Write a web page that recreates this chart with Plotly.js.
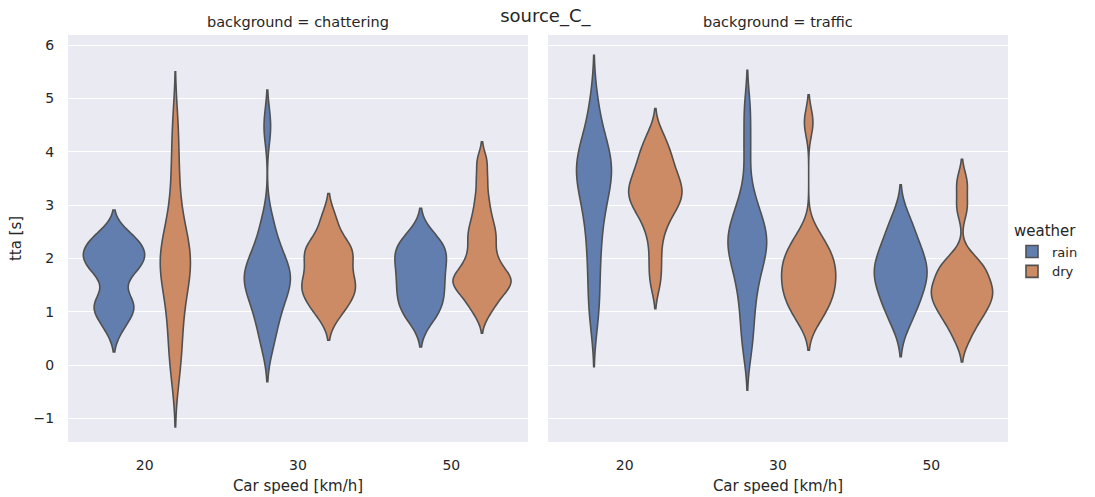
<!DOCTYPE html>
<html>
<head>
<meta charset="utf-8">
<script src="https://cdn.plot.ly/plotly-3.0.1.min.js"></script>
<style>
  html, body { margin: 0; padding: 0; background: #ffffff; }
  #chart { width: 1095px; height: 497px; }
</style>
</head>
<body>
<div id="chart"></div>
<script>
// Categories
const speeds = ['20', '30', '50'];
const weathers = ['rain', 'dry'];
const backgrounds = ['chattering', 'traffic'];

// tta [s] samples, background = chattering
const chatteringRain20 = [0.69, 0.95, 1.05, 1.15, 1.3, 1.65, 1.8, 1.9, 2.0, 2.05, 2.15, 2.25, 2.35, 2.47];
const chatteringDry20  = [-0.16, 0.2, 0.55, 0.9, 1.2, 1.45, 1.65, 1.8, 1.9, 2.0, 2.1, 2.25, 2.45, 2.7, 3.2, 3.8, 4.5];
const chatteringRain30 = [0.37, 0.7, 0.95, 1.15, 1.3, 1.45, 1.55, 1.65, 1.72, 1.8, 1.95, 2.1, 2.35, 2.7, 4.48];
const chatteringDry30  = [0.95, 1.15, 1.3, 1.42, 1.52, 1.62, 1.8, 2.0, 2.1, 2.2, 2.35, 2.74];
const chatteringRain50 = [0.84, 1.0, 1.12, 1.25, 1.38, 1.5, 1.62, 1.75, 1.88, 2.0, 2.1, 2.2, 2.3, 2.44];
const chatteringDry50  = [0.96, 1.15, 1.25, 1.35, 1.45, 1.5, 1.55, 1.6, 1.65, 1.7, 1.8, 1.9, 2.0, 2.15, 2.3, 2.42, 2.55, 2.7, 2.9, 3.15, 3.48, 3.83];

// tta [s] samples, background = traffic
const trafficRain20 = [0.87, 1.3, 1.75, 2.15, 2.5, 2.8, 3.05, 3.25, 3.4, 3.55, 3.65, 3.75, 3.85, 4.0, 4.15, 4.4, 4.91];
const trafficDry20  = [1.56, 1.95, 2.35, 2.65, 2.8, 2.95, 3.05, 3.12, 3.2, 3.28, 3.36, 3.45, 3.55, 3.68, 3.8, 3.95, 4.1, 4.31];
const trafficRain30 = [0.29, 0.7, 1.05, 1.35, 1.6, 1.8, 1.95, 2.1, 2.2, 2.3, 2.4, 2.5, 2.6, 2.75, 2.95, 3.25, 4.05, 4.77];
const trafficDry30  = [0.8, 1.0, 1.12, 1.25, 1.35, 1.45, 1.55, 1.65, 1.75, 1.85, 1.95, 2.05, 2.15, 2.3, 2.5, 4.55];
const trafficRain50 = [0.76, 1.0, 1.15, 1.3, 1.45, 1.55, 1.65, 1.75, 1.85, 1.95, 2.05, 2.2, 2.35, 2.55, 2.78];
const trafficDry50  = [0.5, 0.75, 0.9, 1.0, 1.1, 1.2, 1.3, 1.35, 1.4, 1.5, 1.6, 1.7, 1.8, 1.9, 2.0, 2.95, 3.42];

// KDE bandwidths for each group
const bandwidths = {
  chattering: { rain: [0.22, 0.34, 0.25], dry: [0.50, 0.24, 0.18] },
  traffic:    { rain: [0.45, 0.38, 0.30], dry: [0.25, 0.26, 0.22] }
};

const samples = {
  chattering: {
    rain: [chatteringRain20, chatteringRain30, chatteringRain50],
    dry:  [chatteringDry20, chatteringDry30, chatteringDry50]
  },
  traffic: {
    rain: [trafficRain20, trafficRain30, trafficRain50],
    dry:  [trafficDry20, trafficDry30, trafficDry50]
  }
};

const fills = { rain: '#617EAF', dry: '#CD8B65' };
const edge = '#505050';
const font = 'DejaVu Sans, Liberation Sans, Arial, sans-serif';
const textColor = '#262626';

const traces = [];
backgrounds.forEach((bg, b) => {
  const axisSuffix = b === 0 ? '' : '2';
  speeds.forEach((sp, s) => {
    weathers.forEach((w) => {
      const ys = samples[bg][w][s];
      traces.push({
        type: 'violin',
        x: ys.map(() => sp),
        y: ys,
        name: w,
        legendgroup: w,
        showlegend: b === 0 && s === 0,
        xaxis: 'x' + axisSuffix,
        yaxis: 'y' + axisSuffix,
        offsetgroup: w,
        alignmentgroup: bg,
        scalegroup: bg,
        scalemode: 'width',
        bandwidth: bandwidths[bg][w][s],
        spanmode: 'soft',
        points: false,
        box: { visible: false },
        meanline: { visible: false },
        fillcolor: fills[w],
        line: { color: edge, width: 1.6 },
        hoverinfo: 'skip'
      });
    });
  });
});

const xCommon = {
  type: 'category',
  categoryorder: 'array',
  categoryarray: speeds,
  range: [-0.5, 2.5],
  showgrid: false,
  zeroline: false,
  showline: false,
  ticks: 'outside',
  ticklen: 10,
  tickcolor: 'rgba(0,0,0,0)',
  tickfont: { family: font, size: 14, color: textColor },
  title: { text: 'Car speed [km/h]', font: { family: font, size: 15, color: textColor }, standoff: 8 }
};

const yCommon = {
  range: [-1.44, 6.19],
  dtick: 1,
  tick0: 0,
  showgrid: true,
  gridcolor: '#FFFFFF',
  gridwidth: 1,
  zeroline: false,
  showline: false,
  ticks: 'outside',
  ticklen: 10,
  tickcolor: 'rgba(0,0,0,0)',
  tickfont: { family: font, size: 14, color: textColor }
};

const layout = {
  width: 1095,
  height: 497,
  margin: { l: 0, r: 0, t: 0, b: 0 },
  paper_bgcolor: '#FFFFFF',
  plot_bgcolor: '#EAEAF2',
  violinmode: 'group',
  violingap: 0.2,
  violingroupgap: 0,
  title: {
    text: 'source_C_',
    x: 0.498, xanchor: 'center',
    y: 1 - 16 / 497, yanchor: 'middle',
    font: { family: font, size: 18, color: textColor }
  },
  xaxis:  Object.assign({}, xCommon, { domain: [68 / 1095, 528 / 1095], anchor: 'y' }),
  xaxis2: Object.assign({}, xCommon, { domain: [548 / 1095, 1008 / 1095], anchor: 'y2' }),
  yaxis:  Object.assign({}, yCommon, {
    domain: [55 / 497, 462 / 497], anchor: 'x',
    title: { text: 'tta [s]', font: { family: font, size: 15, color: textColor }, standoff: 8 }
  }),
  yaxis2: Object.assign({}, yCommon, {
    domain: [55 / 497, 462 / 497], anchor: 'x2', matches: 'y', showticklabels: false
  }),
  legend: {
    x: 1012 / 1095, xanchor: 'left',
    y: 0.493, yanchor: 'middle',
    bgcolor: 'rgba(0,0,0,0)',
    font: { family: font, size: 13, color: textColor },
    title: { text: 'weather', font: { family: font, size: 15, color: textColor } },
    tracegroupgap: 0,
    itemclick: false
  },
  annotations: [
    {
      text: 'background = chattering', xref: 'paper', yref: 'paper',
      x: 298 / 1095, y: 1 - 22 / 497, xanchor: 'center', yanchor: 'middle',
      showarrow: false, font: { family: font, size: 14.5, color: textColor }
    },
    {
      text: 'background = traffic', xref: 'paper', yref: 'paper',
      x: 778 / 1095, y: 1 - 22 / 497, xanchor: 'center', yanchor: 'middle',
      showarrow: false, font: { family: font, size: 14.5, color: textColor }
    }
  ]
};

Plotly.newPlot('chart', traces, layout, { displayModeBar: false, staticPlot: true });
</script>
</body>
</html>
